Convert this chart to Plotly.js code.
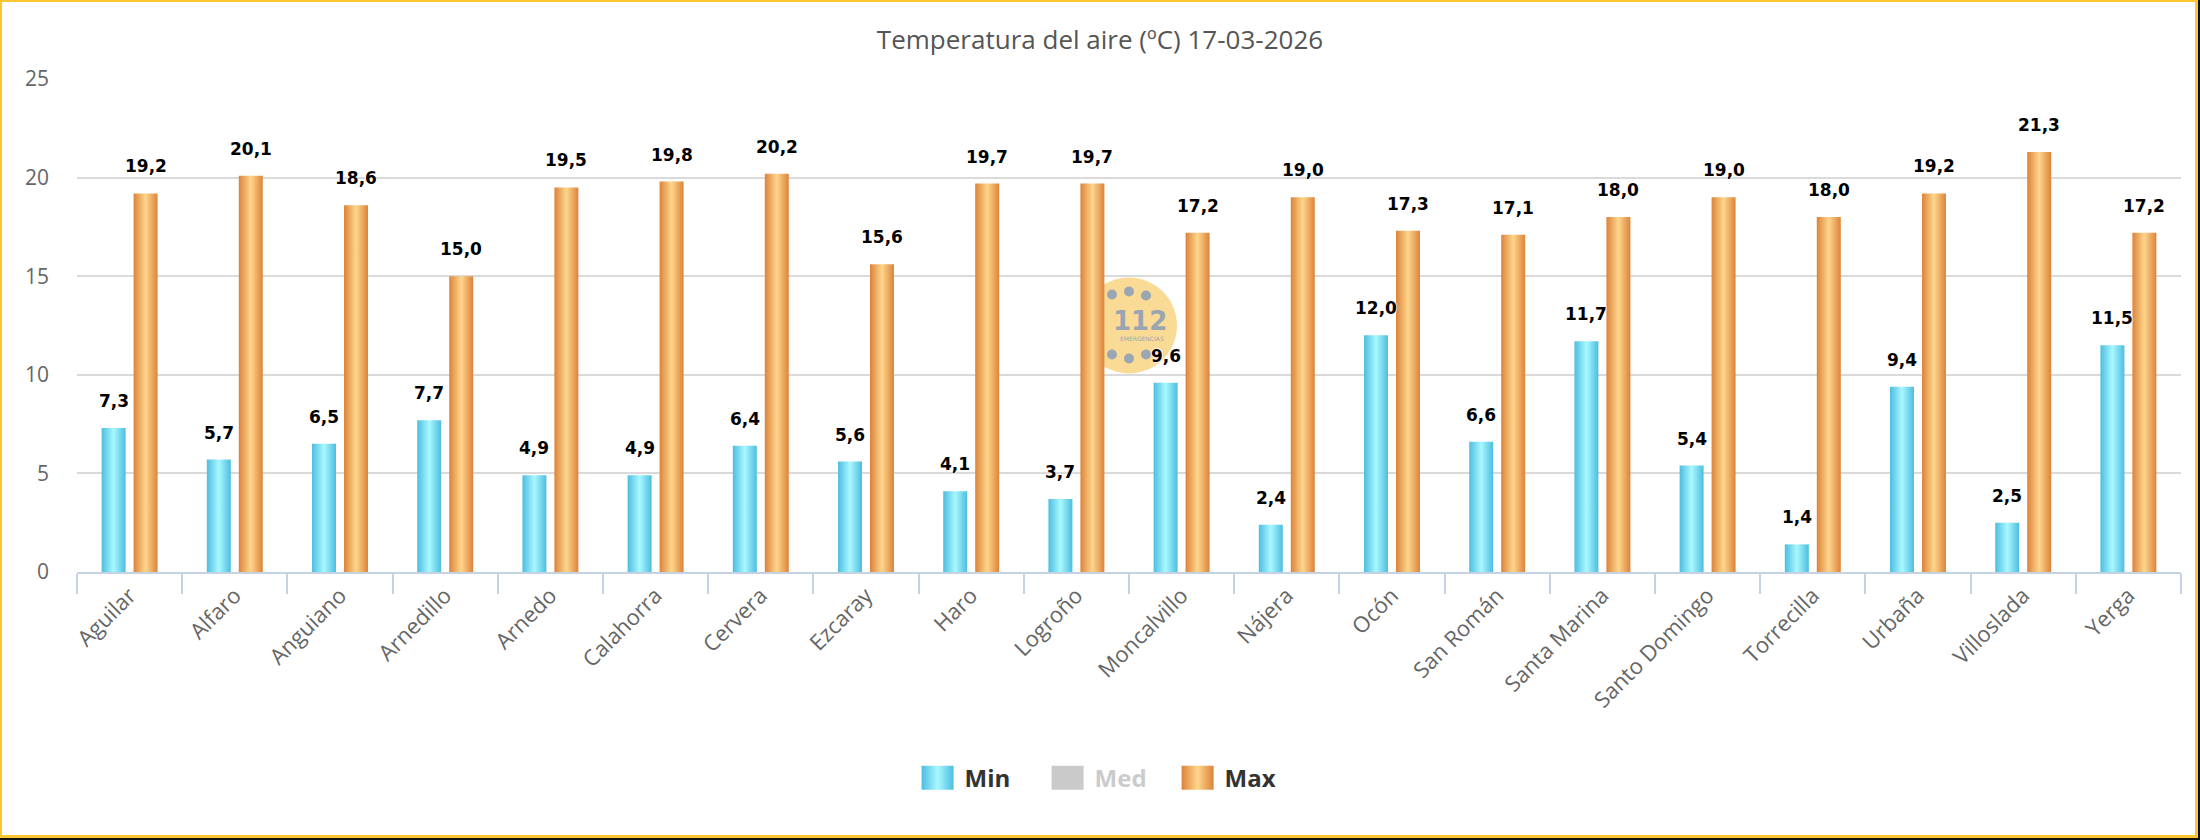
<!DOCTYPE html>
<html>
<head>
<meta charset="utf-8">
<script src="https://cdn.plot.ly/plotly-3.0.1.min.js"></script>
<style>
html, body { margin: 0; padding: 0; background: #fff; }
#wrap { position: relative; width: 2200px; height: 840px; overflow: hidden; }
#chart { width: 2200px; height: 840px; }
#shadow { position: absolute; left: 0; top: 0; width: 2200px; height: 840px; box-sizing: border-box;
  border-right: 2px solid #111; border-bottom: 2px solid #111; pointer-events: none; }
#frame { position: absolute; left: 0; top: 0; width: 2198px; height: 838px; box-sizing: border-box;
  border: 2px solid #fcc630; border-right-width: 3px; border-bottom-width: 3px; pointer-events: none; }
</style>
</head>
<body>
<div id="wrap"><div id="chart"></div><div id="shadow"></div><div id="frame"></div></div>
<script>
// ---------------- data ----------------
const titleText = 'Temperatura del aire (ºC) 17-03-2026';
const categories = ['Aguilar', 'Alfaro', 'Anguiano', 'Arnedillo', 'Arnedo', 'Calahorra', 'Cervera',
  'Ezcaray', 'Haro', 'Logroño', 'Moncalvillo', 'Nájera', 'Ocón', 'San Román', 'Santa Marina',
  'Santo Domingo', 'Torrecilla', 'Urbaña', 'Villoslada', 'Yerga'];
const minValues = [7.3, 5.7, 6.5, 7.7, 4.9, 4.9, 6.4, 5.6, 4.1, 3.7, 9.6, 2.4, 12.0, 6.6, 11.7, 5.4, 1.4, 9.4, 2.5, 11.5];
// "Med" series is switched off in the reference (legend only): no values are shown
const medValues = [null, null, null, null, null, null, null, null, null, null,
  null, null, null, null, null, null, null, null, null, null];
const maxValues = [19.2, 20.1, 18.6, 15.0, 19.5, 19.8, 20.2, 15.6, 19.7, 19.7, 17.2, 19.0, 17.3, 17.1, 18.0, 19.0, 18.0, 19.2, 21.3, 17.2];
const seriesNames = ['Min', 'Med', 'Max'];
const yTickValues = [0, 5, 10, 15, 20, 25];
const watermarkText = '112';
const watermarkSub = 'EMERGENCIAS';

// ---------------- style ----------------
const GRAD_MIN = ['#4dbde0', '#a9f8ff', '#4dbde0'];
const GRAD_MAX = ['#dc833a', '#fed68c', '#dc833a'];
const labelFont = { family: 'DejaVu Sans', size: 17, color: '#000', weight: 'bold',
  shadow: '0 0 2px #fff, 0 0 2px #fff, 0 0 2px #fff' };
const fmt = v => v.toFixed(1).replace('.', ',');

const traces = [
  { type: 'bar', name: seriesNames[0], x: categories, y: minValues,
    marker: { color: GRAD_MIN[0], line: { width: 0 } }, hoverinfo: 'x+y' },
  { type: 'bar', name: seriesNames[1], x: categories, y: medValues, visible: 'legendonly',
    marker: { color: '#969696', line: { width: 0 } } },
  { type: 'bar', name: seriesNames[2], x: categories, y: maxValues,
    marker: { color: GRAD_MAX[0], line: { width: 0 } }, hoverinfo: 'x+y' }
];

const annotations = [];
categories.forEach((c, i) => {
  annotations.push({ x: c, y: minValues[i], xref: 'x', yref: 'y', text: fmt(minValues[i]),
    showarrow: false, xanchor: 'center', yanchor: 'middle', xshift: -16, yshift: 27, font: labelFont });
  annotations.push({ x: c, y: maxValues[i], xref: 'x', yref: 'y', text: fmt(maxValues[i]),
    showarrow: false, xanchor: 'center', yanchor: 'middle', xshift: 16, yshift: 27, font: labelFont });
});
// watermark text (centred in the plot area)
annotations.push({ x: 0.5, y: 0.5, xref: 'paper', yref: 'paper', text: '<b>' + watermarkText + '</b>',
  showarrow: false, xanchor: 'center', yanchor: 'middle', xshift: 11, yshift: 5,
  font: { family: 'DejaVu Sans', size: 26, color: '#9aa5b2' } });
annotations.push({ x: 0.5, y: 0.5, xref: 'paper', yref: 'paper', text: watermarkSub,
  showarrow: false, xanchor: 'center', yanchor: 'middle', xshift: 13, yshift: -13,
  font: { family: 'DejaVu Sans', size: 6, color: '#9aa5b2' } });

const dot = (dx, dy) => ({ type: 'circle', xref: 'paper', yref: 'paper', xsizemode: 'pixel', ysizemode: 'pixel',
  xanchor: 0.5, yanchor: 0.5, x0: dx - 5, x1: dx + 5, y0: dy - 5, y1: dy + 5,
  fillcolor: '#9ba6b3', line: { width: 0 }, layer: 'below' });
const shapes = [
  { type: 'circle', xref: 'paper', yref: 'paper', xsizemode: 'pixel', ysizemode: 'pixel',
    xanchor: 0.5, yanchor: 0.5, x0: -48, x1: 48, y0: -48, y1: 48,
    fillcolor: 'rgba(249,213,130,0.85)', line: { width: 0 }, layer: 'below' },
  dot(-17, 31), dot(0, 34), dot(17, 30), dot(-17, -29), dot(0, -33), dot(17, -29)
];

const layout = {
  width: 2200, height: 840,
  paper_bgcolor: '#fff', plot_bgcolor: '#fff',
  font: { family: 'Open Sans', color: '#666' },
  separators: ',.',
  title: { text: titleText, x: 0.5, xref: 'container', y: 0.952, yref: 'container', yanchor: 'middle',
    font: { family: 'Open Sans', size: 26, color: '#555' } },
  margin: { l: 77, r: 19, t: 79, b: 268 },
  barmode: 'group', bargap: 0.392, bargroupgap: 0.25,
  xaxis: { type: 'category', showgrid: false, showline: true, linecolor: '#c4d2e4', linewidth: 2,
    ticks: 'outside', ticklen: 20, tickwidth: 2, tickcolor: '#c4d2e4', tickson: 'boundaries',
    tickangle: -45, tickfont: { family: 'Open Sans', size: 22, color: '#666' }, zeroline: false, fixedrange: true },
  yaxis: { range: [0, 25], tickvals: yTickValues, showgrid: true, gridcolor: '#dadada', gridwidth: 2,
    zeroline: false, showline: false, ticks: '', ticklabelstandoff: 27,
    tickfont: { family: 'Open Sans', size: 21, color: '#666' }, fixedrange: true },
  showlegend: true,
  legend: { orientation: 'h', x: 0.4922, xanchor: 'center', y: -0.418, yanchor: 'middle',
    entrywidth: 85, entrywidthmode: 'pixels',
    font: { family: 'Open Sans', size: 24, color: '#333', weight: 'bold' }, bgcolor: 'rgba(0,0,0,0)' },
  shapes: shapes,
  annotations: annotations
};

function addGradients(gd) {
  const ns = 'http://www.w3.org/2000/svg';
  const svg = gd.querySelector('svg.main-svg');
  let defs = svg.querySelector('defs');
  if (!defs) { defs = document.createElementNS(ns, 'defs'); svg.insertBefore(defs, svg.firstChild); }
  const mk = (id, cols) => {
    const g = document.createElementNS(ns, 'linearGradient');
    g.setAttribute('id', id); g.setAttribute('x1', '0'); g.setAttribute('x2', '1');
    g.setAttribute('y1', '0'); g.setAttribute('y2', '0');
    [0, 0.5, 1].forEach((o, k) => {
      const s = document.createElementNS(ns, 'stop');
      s.setAttribute('offset', o); s.setAttribute('stop-color', cols[k]); g.appendChild(s);
    });
    defs.appendChild(g);
  };
  mk('gradMin', GRAD_MIN); mk('gradMax', GRAD_MAX);
  const fillFor = name => name === seriesNames[0] ? 'url(#gradMin)' : (name === seriesNames[2] ? 'url(#gradMax)' : null);
  gd.querySelectorAll('.barlayer .trace').forEach(el => {
    const d = el.__data__; const t = d && d[0] && d[0].trace; if (!t) return;
    const f = fillFor(t.name); if (!f) return;
    el.querySelectorAll('path').forEach(p => { p.style.fill = f; });
  });
  gd.querySelectorAll('.legend .traces').forEach(el => {
    const d = el.__data__;
    let t = d && d[0] && (d[0].trace || (d[0][0] && d[0][0].trace));
    el.querySelectorAll('.legendpoints path').forEach(p => {
      p.setAttribute('d', 'M16,12H-16V-12H16Z');
      const f = t ? fillFor(t.name) : null;
      if (f) p.style.fill = f;
    });
    el.querySelectorAll('text.legendtext').forEach(tx => { tx.setAttribute('transform', 'translate(7,0)'); });
    if (t && t.visible === 'legendonly') {
      el.querySelectorAll('text').forEach(tx => { tx.style.fill = '#999'; });
    }
  });
}

Plotly.newPlot('chart', traces, layout, { staticPlot: true, displayModeBar: false })
  .then(gd => addGradients(gd));
</script>
</body>
</html>
